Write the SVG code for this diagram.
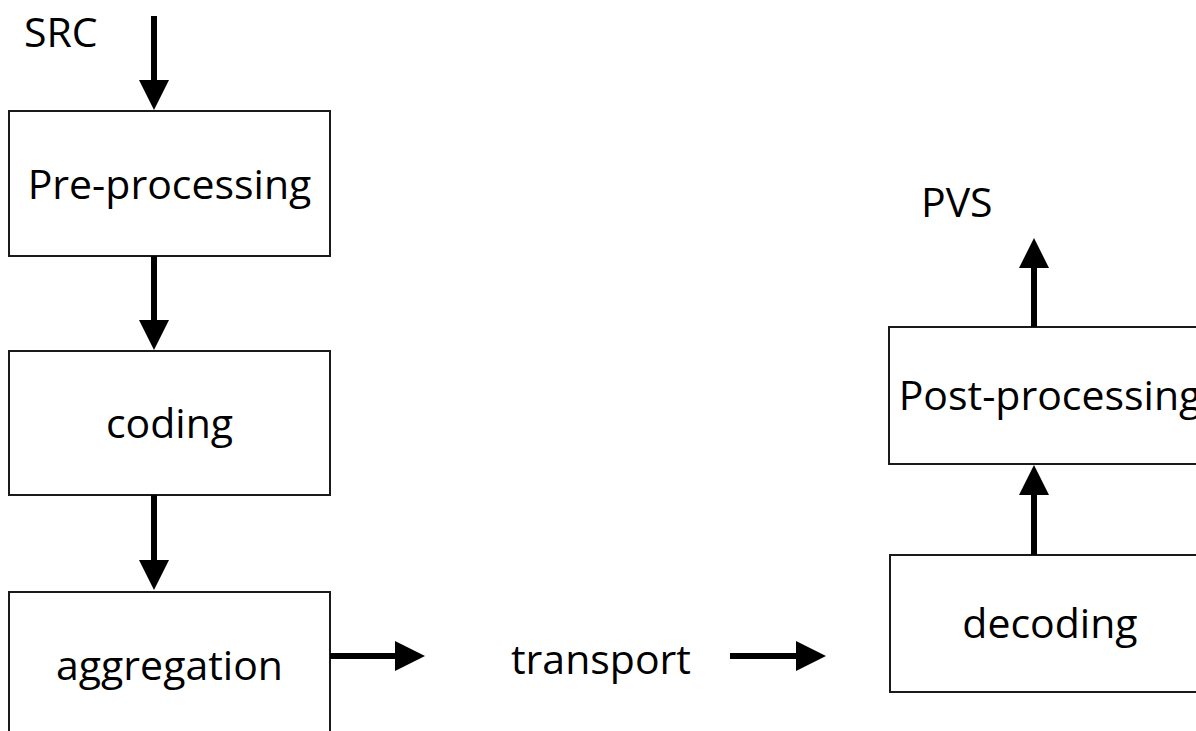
<svg xmlns="http://www.w3.org/2000/svg" width="1196" height="731" viewBox="0 0 1196 731">
  <style>
    .box { fill: #ffffff; stroke: #1a1a1a; stroke-width: 2; }
    .lbl { font-family: "Open Sans", "Noto Sans", "DejaVu Sans", sans-serif; font-size: 41px; fill: #000000; }
    .mid { text-anchor: middle; }
    .conn { stroke: #000000; stroke-width: 6; fill: none; marker-end: url(#head); }
  </style>
  <defs>
    <marker id="head" viewBox="0 0 30 30" refX="1" refY="15" markerWidth="30" markerHeight="30" markerUnits="userSpaceOnUse" orient="auto">
      <path d="M0,0 L30,15 L0,30 Z" fill="#000000"/>
    </marker>
  </defs>
  <rect width="1196" height="731" fill="#ffffff"/>

  <g id="src">
    <text class="lbl" x="24" y="47">SRC</text>
  </g>
  <g id="preprocessing">
    <rect class="box" x="9" y="111" width="321" height="145"/>
    <text class="lbl mid" x="169.5" y="199">Pre-processing</text>
  </g>
  <g id="coding">
    <rect class="box" x="9" y="351" width="321" height="144"/>
    <text class="lbl mid" x="169.5" y="438">coding</text>
  </g>
  <g id="aggregation">
    <rect class="box" x="9" y="592" width="321" height="146"/>
    <text class="lbl mid" x="169.5" y="680">aggregation</text>
  </g>
  <g id="transport">
    <text class="lbl" x="511" y="674">transport</text>
  </g>
  <g id="decoding">
    <rect class="box" x="890" y="555" width="321" height="137"/>
    <text class="lbl mid" x="1050" y="638">decoding</text>
  </g>
  <g id="postprocessing">
    <rect class="box" x="889" y="327" width="322" height="137"/>
    <text class="lbl mid" x="1050" y="410">Post-processing</text>
  </g>
  <g id="pvs">
    <text class="lbl" x="921" y="217">PVS</text>
  </g>

  <g id="connectors">
    <line class="conn" x1="154" y1="16" x2="154" y2="81"/>
    <line class="conn" x1="154" y1="256" x2="154" y2="321"/>
    <line class="conn" x1="154" y1="495" x2="154" y2="561"/>
    <line class="conn" x1="330" y1="656" x2="396" y2="656"/>
    <line class="conn" x1="730" y1="656" x2="797" y2="656"/>
    <line class="conn" x1="1034" y1="555" x2="1034" y2="494"/>
    <line class="conn" x1="1034" y1="327" x2="1034" y2="267"/>
  </g>
</svg>
